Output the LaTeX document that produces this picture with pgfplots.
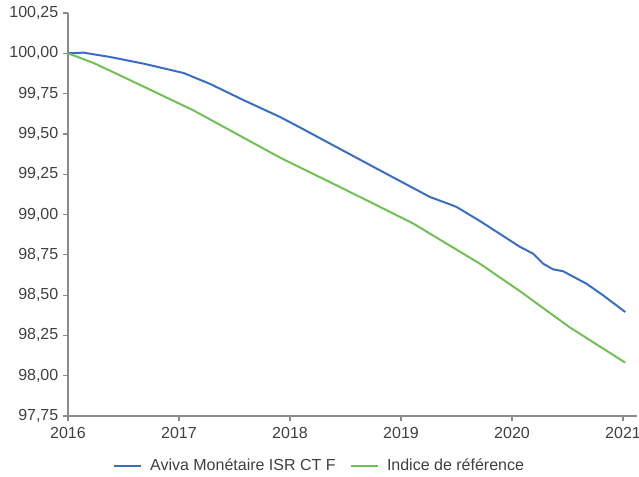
\documentclass[border=0pt]{standalone}
\usepackage{fontspec}
\setmainfont{Liberation Sans}
\usepackage{pgfplots}
\pgfplotsset{compat=1.18}

\definecolor{aviva}{HTML}{3A6EC6}
\definecolor{indice}{HTML}{72C055}
\definecolor{axisgray}{HTML}{8A8A8A}
\definecolor{txt}{HTML}{404040}

\begin{document}
\begin{tikzpicture}[font=\fontsize{12}{14}\selectfont]
\begin{axis}[
    scale only axis,
    width=426.75pt,
    height=302.25pt,
    at={(0,0)}, anchor=south west,
    xmin=2016, xmax=2021.126,
    ymin=97.75, ymax=100.25,
    axis lines=left,
    axis line style={-, axisgray, line width=0.9pt},
    tick style={axisgray, line width=0.9pt},
    tick align=outside,
    major tick length=3.75pt,
    xtick={2016,2017,2018,2019,2020,2021},
    ytick={97.75,98,98.25,98.5,98.75,99,99.25,99.5,99.75,100,100.25},
    minor tick num=0,
    /pgf/number format/assume math mode=true,
    xticklabel style={/pgf/number format/1000 sep={}, text=txt, yshift=-1pt},
    yticklabel style={/pgf/number format/.cd, fixed, fixed zerofill, precision=2, use comma, 1000 sep={}, /tikz/text=txt},
    legend columns=2,
    legend style={draw=none, fill=none, at={(0.443,-0.123)}, anchor=center,
        text=txt,
        /tikz/every odd column/.append style={column sep=4pt},
        /tikz/every even column/.append style={column sep=9pt}},
    legend image code/.code={\draw[#1, line width=1.5pt] (0pt,0pt) -- (20pt,0pt);},
    clip=false,
]
% Aviva Monétaire ISR CT F
\addplot[aviva, line width=1.5pt] coordinates {
    (2016.00,100.000) (2016.14,100.004) (2016.38,99.977) (2016.68,99.936)
    (2017.04,99.878) (2017.28,99.810) (2017.58,99.710) (2017.91,99.605)
    (2018.09,99.540) (2018.36,99.440) (2018.81,99.274) (2019.26,99.109)
    (2019.44,99.063) (2019.50,99.047) (2019.71,98.960) (2020.07,98.800)
    (2020.19,98.757) (2020.28,98.695) (2020.37,98.660) (2020.46,98.648)
    (2020.67,98.571) (2020.82,98.499) (2021.02,98.395)
};
\addlegendentry{Aviva Monétaire ISR CT F}
% Indice de référence
\addplot[indice, line width=1.5pt] coordinates {
    (2016.00,100.000) (2016.23,99.940) (2016.53,99.843) (2017.13,99.646)
    (2017.91,99.353) (2018.51,99.150) (2019.11,98.944) (2019.71,98.695)
    (2020.07,98.525) (2020.52,98.300) (2021.02,98.081)
};
\addlegendentry{Indice de référence}
\end{axis}
\pgfresetboundingbox
\useasboundingbox (-51pt,-45pt) rectangle (428.25pt,312pt);
\end{tikzpicture}
\end{document}
